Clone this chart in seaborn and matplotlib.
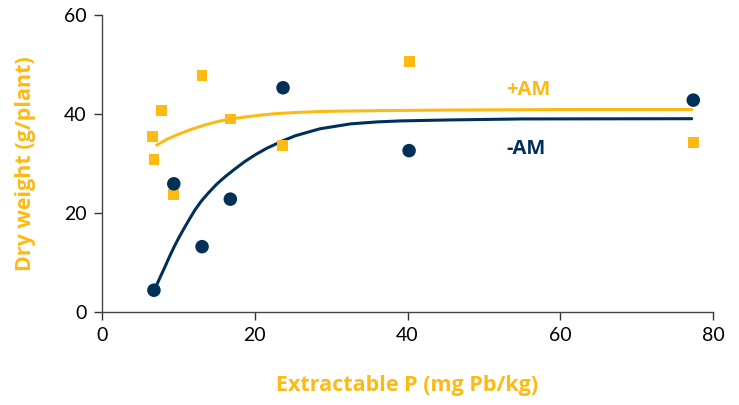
import matplotlib
matplotlib.use("Agg")
import matplotlib.pyplot as plt
import seaborn as sns
import pandas as pd

# measured points
p_am = [6.6, 6.8, 7.8, 9.4, 13.1, 16.8, 23.6, 40.3, 77.4]
dw_am = [35.4, 30.8, 40.7, 23.7, 47.7, 39.0, 33.6, 50.6, 34.2]

p_noam = [6.8, 9.4, 13.1, 16.8, 23.7, 40.2, 77.4]
dw_noam = [4.4, 25.9, 13.2, 22.8, 45.3, 32.6, 42.8]

# fitted curves
fit_x_am = [7.15, 8.5, 10.0, 11.7, 13.5, 15.2, 16.9, 18.8, 20.9, 23.0, 25.3, 28.5, 31.8, 38.0, 45.5, 60.0, 77.2]
fit_y_am = [33.7, 34.9, 35.9, 36.9, 37.8, 38.5, 39.0, 39.4, 39.8, 40.1, 40.3, 40.5, 40.6, 40.7, 40.8, 40.9, 40.9]

fit_x_noam = [7.15, 7.7, 8.25, 8.9, 9.55, 10.2, 10.86, 11.5, 12.17, 13.0, 13.9, 15.0, 16.1, 17.4, 18.7, 20.1,
              21.6, 23.7, 25.3, 28.5, 32.5, 36.0, 39.0, 45.5, 55.0, 77.2]
fit_y_noam = [5.45, 7.3, 9.15, 11.4, 13.5, 15.4, 17.2, 18.9, 20.6, 22.4, 24.0, 25.8, 27.3, 28.9, 30.4, 31.8,
              33.1, 34.6, 35.6, 37.0, 38.0, 38.4, 38.6, 38.8, 39.0, 39.05]

orange = "#FDBA12"
navy = "#00305A"

sns.set_style("white")
plt.rcParams['font.family'] = ['Lato', 'DejaVu Sans']

fig = plt.figure(figsize=(7.39, 4.05), dpi=100)
ax = fig.add_axes([0.138, 0.2296, 0.827, 0.7334])

sns.lineplot(x=fit_x_am, y=fit_y_am, color=orange, lw=2.2, ax=ax, sort=False)
sns.lineplot(x=fit_x_noam, y=fit_y_noam, color=navy, lw=2.2, ax=ax, sort=False)

sns.scatterplot(x=p_am, y=dw_am, marker="s", s=60, color=orange, edgecolor="none", ax=ax, zorder=3)
sns.scatterplot(x=p_noam, y=dw_noam, marker="o", s=95, color=navy, edgecolor="none", ax=ax, zorder=3)

lab_font = dict(family=["Open Sans", "DejaVu Sans"], fontweight="bold")
ax.text(55.8, 44.8, "+AM", color=orange, fontsize=14.5, ha="center", va="center", **lab_font)
ax.text(55.5, 32.9, "-AM", color=navy, fontsize=14.5, ha="center", va="center", **lab_font)

ax.set_xlim(0, 80)
ax.set_ylim(0, 60)
ax.set_xticks([0, 20, 40, 60, 80])
ax.set_yticks([0, 20, 40, 60])
ax.tick_params(axis="both", direction="out", length=6, width=1, colors="#333333",
               labelsize=14, labelcolor="black", pad=5, bottom=True, left=True)
for s in ["top", "right"]:
    ax.spines[s].set_visible(False)
for s in ["left", "bottom"]:
    ax.spines[s].set_color("#444444")
    ax.spines[s].set_linewidth(1)

ax.set_xlabel("Extractable P (mg Pb/kg)", color=orange, fontsize=15.5, labelpad=22, **lab_font)
ax.set_ylabel("Dry weight (g/plant)", color=orange, fontsize=15.5, labelpad=20, **lab_font)

fig.savefig("out.png", dpi=100)
